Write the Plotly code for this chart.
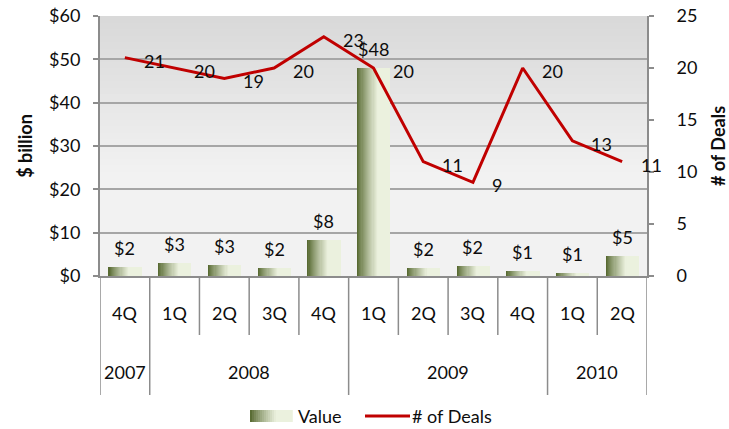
import plotly.graph_objects as go

# ---------------- data ----------------
quarters = ["4Q", "1Q", "2Q", "3Q", "4Q", "1Q", "2Q", "3Q", "4Q", "1Q", "2Q"]
years = ["2007", "2008", "2008", "2008", "2008", "2009", "2009", "2009", "2009", "2010", "2010"]
value_bn = [2.0, 3.1, 2.6, 1.8, 8.4, 48.0, 1.8, 2.4, 1.2, 0.6, 4.7]
deals = [21, 20, 19, 20, 23, 20, 11, 9, 20, 13, 11]
left_ticks = [0, 10, 20, 30, 40, 50, 60]
right_ticks = [0, 5, 10, 15, 20, 25]

# ---------------- layout constants ----------------
W, H = 729, 429
L, R, T, B = 100, 82, 16, 153
PW, PH = W - L - R, H - T - B
BOTTOM = H - B
FONT = "Lato"
FS = 18
TXT = "#0d0d0d"
GRID = "#a6a6a6"
AXIS = "#8c8c8c"


def px_x(px):
    return (px - L) / PW


def px_y(py):
    return (BOTTOM - py) / PH


def lerp_hex(c1, c2, t):
    a = [int(c1[i:i + 2], 16) for i in (1, 3, 5)]
    b = [int(c2[i:i + 2], 16) for i in (1, 3, 5)]
    return "#" + "".join(f"{round(a[k] + (b[k] - a[k]) * t):02x}" for k in range(3))


DARK, LIGHT = "#4f6228", "#ebf1de"


def bar_grad(t):
    return lerp_hex(DARK, LIGHT, min(1.0, t / 0.62) ** 0.8)


idx = list(range(len(quarters)))
fig = go.Figure()

# gradient bars built from overlaid strips
N = 30
BW = 0.66
sw = BW / N
for i in range(N):
    t = (i + 0.5) / N
    fig.add_trace(go.Bar(
        x=idx, y=value_bn, yaxis="y",
        offset=-BW / 2 + i * sw, width=sw * (2.0 if i < N - 1 else 1.0),
        marker=dict(color=bar_grad(t), line=dict(width=0)),
        showlegend=False, hoverinfo="skip",
    ))

fig.add_trace(go.Scatter(
    x=idx, y=deals, yaxis="y2", mode="lines",
    line=dict(color="#c00000", width=3),
    showlegend=False, hoverinfo="skip",
))

tf = dict(family=FONT, size=FS, color=TXT)
annotations = []
# bar labels
for i, v in zip(idx, value_bn):
    annotations.append(dict(x=i, y=v, xref="x", yref="y", text=f"${v:.0f}",
                            showarrow=False, yanchor="middle", yshift=19, font=tf))
# line labels
for i, d in zip(idx, deals):
    annotations.append(dict(x=i, y=d, xref="x", yref="y2", text=str(d),
                            showarrow=False, xanchor="left", yanchor="middle",
                            xshift=17, yshift=-3, font=tf))
# quarter labels
for i, q in zip(idx, quarters):
    annotations.append(dict(x=i, y=px_y(313), xref="x", yref="paper", text=q,
                            showarrow=False, yanchor="middle", font=tf))

# year groups
groups = []
for i, y in enumerate(years):
    if groups and groups[-1][0] == y:
        groups[-1][2] = i
    else:
        groups.append([y, i, i])
for y, a, b in groups:
    annotations.append(dict(x=(a + b) / 2, y=px_y(372), xref="x", yref="paper", text=y,
                            showarrow=False, yanchor="middle", font=tf))

shapes = []
# plot background gradient
NB = 40
for k in range(NB):
    t = (k + 0.5) / NB
    col = lerp_hex("#d8d8d8", "#f2f2f2", min(1.0, t / 0.6))
    shapes.append(dict(type="rect", xref="x domain", yref="y domain",
                       x0=0, x1=1, y0=1 - k / NB, y1=1 - (k + 1) / NB - 0.003,
                       fillcolor=col, line=dict(width=0), layer="below"))

# quarter separators
year_bounds = [a - 0.5 for _, a, _ in groups] + [len(idx) - 0.5]
for k in range(len(idx) + 1):
    xb = k - 0.5
    if xb in year_bounds:
        continue
    shapes.append(dict(type="line", xref="x", yref="paper", x0=xb, x1=xb,
                       y0=0, y1=px_y(335), line=dict(color=AXIS, width=1.5)))
for xb in year_bounds:
    shapes.append(dict(type="line", xref="x", yref="paper", x0=xb, x1=xb,
                       y0=0, y1=px_y(395), line=dict(color=AXIS, width=1.5)))

# custom legend
LY = 416
NL = 21
for k in range(NL):
    t = (k + 0.5) / NL
    x0 = 250 + k * 42 / NL
    shapes.append(dict(type="rect", xref="paper", yref="paper",
                       x0=px_x(x0), x1=px_x(x0 + 42 / NL + 0.8),
                       y0=px_y(LY - 6), y1=px_y(LY + 6),
                       fillcolor=bar_grad(t), line=dict(width=0)))
annotations.append(dict(x=px_x(296), y=px_y(LY), xref="paper", yref="paper",
                        text="Value", showarrow=False, xanchor="left", yanchor="middle",
                        font=tf))
shapes.append(dict(type="line", xref="paper", yref="paper",
                   x0=px_x(365), x1=px_x(410), y0=px_y(LY), y1=px_y(LY),
                   line=dict(color="#c00000", width=3)))
annotations.append(dict(x=px_x(410), y=px_y(LY), xref="paper", yref="paper",
                        text="# of Deals", showarrow=False, xanchor="left", yanchor="middle",
                        font=tf))

fig.update_layout(
    width=W, height=H,
    margin=dict(l=L, r=R, t=T, b=B, pad=0, autoexpand=False),
    paper_bgcolor="white", plot_bgcolor="#f2f2f2",
    barmode="overlay", bargap=0,
    font=tf,
    showlegend=False,
    xaxis=dict(range=[-0.5, len(idx) - 0.5], showticklabels=False, ticks="",
               showgrid=False, zeroline=False, showline=True, automargin=False,
               linecolor=AXIS, linewidth=2, fixedrange=True),
    yaxis=dict(range=[0, 60], tickvals=left_ticks,
               ticktext=[f"${v}" for v in left_ticks], automargin=False,
               showgrid=True, gridcolor=GRID, gridwidth=1.5,
               zeroline=False, showline=True, linecolor=AXIS, linewidth=2,
               ticks="outside", ticklen=5, tickcolor=AXIS, tickwidth=1.5,
               ticklabelstandoff=9, tickfont=tf,
               title=dict(text="<b>$ billion</b>", standoff=12, font=tf)),
    yaxis2=dict(range=[0, 25], tickvals=right_ticks, overlaying="y", side="right",
                automargin=False,
                showgrid=False, zeroline=False, showline=True, linecolor=AXIS,
                linewidth=2, ticks="outside", ticklen=5, tickcolor=AXIS, tickwidth=1.5,
                ticklabelstandoff=19, tickfont=tf,
                title=dict(text="<b># of Deals</b>", standoff=16, font=tf)),
    annotations=annotations,
    shapes=shapes,
)

fig.write_html("out.html")
